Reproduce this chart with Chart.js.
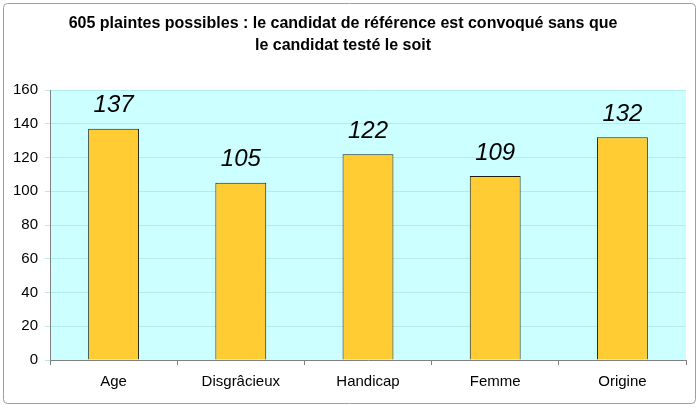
<!DOCTYPE html>
<html>
<head>
<meta charset="utf-8">
<script src="https://cdn.jsdelivr.net/npm/chart.js@4"></script>
<style>
  html, body { margin: 0; padding: 0; background: #fff; }
  #wrap { width: 700px; height: 408px; }
</style>
</head>
<body>
<div id="wrap"><canvas id="chart" width="700" height="408"></canvas></div>
<script>
const categories = ['Age', 'Disgrâcieux', 'Handicap', 'Femme', 'Origine'];
const complaints = [137, 105, 122, 109, 132];
const titleLines = ['605 plaintes possibles : le candidat de référence est convoqué sans que', 'le candidat testé le soit'];

const FONT = '"Liberation Sans", Arial, sans-serif';

// outer frame + cyan plot background
const frame = {
  id: 'frame',
  beforeDraw(chart) {
    const ctx = chart.ctx;
    const a = chart.chartArea;
    ctx.save();
    ctx.fillStyle = '#fff';
    ctx.fillRect(0, 0, chart.width, chart.height);
    ctx.strokeStyle = '#a0a0a0';
    ctx.lineWidth = 1;
    ctx.beginPath();
    ctx.roundRect(3.5, 3.5, 692, 400, 4);
    ctx.stroke();
    ctx.fillStyle = '#ccffff';
    ctx.fillRect(a.left, a.top, a.right - a.left, a.bottom - a.top);
    ctx.restore();
  }
};

// italic value above each bar
const valueLabels = {
  id: 'valueLabels',
  afterDatasetsDraw(chart) {
    const ctx = chart.ctx;
    const meta = chart.getDatasetMeta(0);
    ctx.save();
    ctx.font = 'italic 24px ' + FONT;
    ctx.fillStyle = '#000';
    ctx.textAlign = 'center';
    ctx.textBaseline = 'middle';
    meta.data.forEach((bar, i) => {
      ctx.fillText(String(complaints[i]), bar.x, bar.y - 23);
    });
    ctx.restore();
  }
};

new Chart(document.getElementById('chart'), {
  type: 'bar',
  data: {
    labels: categories,
    datasets: [{
      data: complaints,
      backgroundColor: '#ffcc33',
      borderColor: '#1e1e10',
      borderWidth: 1,
      barPercentage: 0.4,
      categoryPercentage: 1
    }]
  },
  options: {
    responsive: false,
    animation: false,
    layout: { padding: { top: 0, right: 14, bottom: 0, left: 0 } },
    plugins: {
      legend: { display: false },
      tooltip: { enabled: false },
      title: {
        display: true,
        text: titleLines,
        color: '#000',
        font: { family: FONT, size: 16, weight: 'bold', lineHeight: 1.375 },
        padding: { top: 13, bottom: 33 }
      }
    },
    scales: {
      x: {
        afterFit(scale) { scale.height = 48; },
        grid: { offset: true, drawOnChartArea: false, tickLength: 5, color: '#808080' },
        border: { color: '#808080' },
        ticks: { color: '#000', font: { family: FONT, size: 15 }, padding: 8 }
      },
      y: {
        min: 0,
        max: 160,
        afterFit(scale) { scale.width = 50; },
        grid: { color: '#b4ecec', tickLength: 5, drawTicks: true },
        border: { color: '#808080' },
        ticks: { stepSize: 20, color: '#000', font: { family: FONT, size: 15 }, padding: 7 }
      }
    }
  },
  plugins: [frame, valueLabels]
});
</script>
</body>
</html>
